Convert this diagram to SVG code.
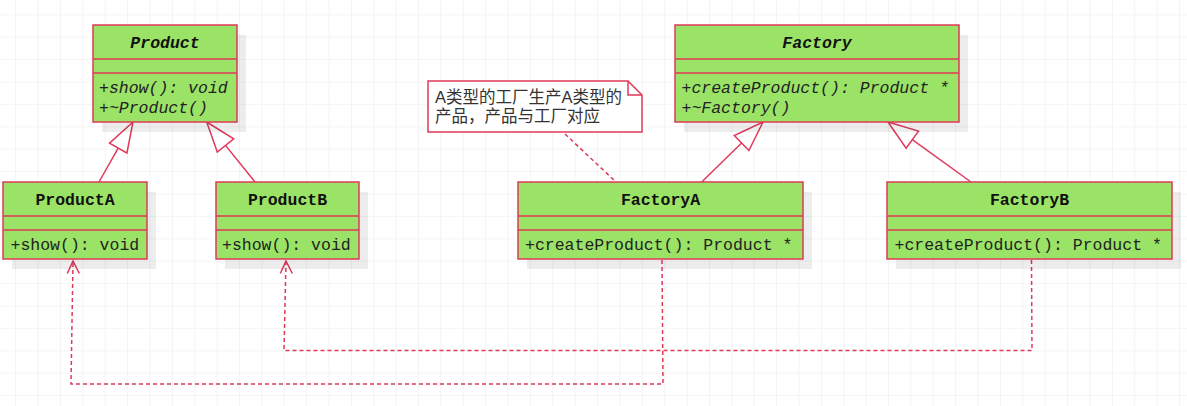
<svg xmlns="http://www.w3.org/2000/svg" width="1187" height="406" viewBox="0 0 1187 406">
<style>
.box{fill:#9be366;stroke:#e0395a;stroke-width:1.5}
.shadow{fill:#000;fill-opacity:0.07}
.sep{stroke:#e0395a;stroke-width:1.5}
.title{font-family:"Liberation Mono","Courier New",monospace;font-size:16.5px;font-weight:bold;fill:#111;text-anchor:middle}
.abs{font-style:italic}
.mem{font-family:"Liberation Mono","Courier New",monospace;font-size:16.5px;fill:#222}
.gen{stroke:#e0395a;stroke-width:1.5;fill:none}
.tri{stroke:#e0395a;stroke-width:1.5;fill:#fff}
.dep{stroke:#e0395a;stroke-width:1.5;fill:none;stroke-dasharray:4 3}
.note{fill:#fff;stroke:#e0395a;stroke-width:1.5}
.notetext{font-family:"Liberation Sans","Noto Sans CJK SC",sans-serif;font-size:16.5px;fill:#333}
</style>
<defs>
<pattern id="grid" patternUnits="userSpaceOnUse" x="15.2" y="14.3" width="22.38" height="22.4">
<path d="M0,0 H22.38 M0,0 V22.4" stroke="#ebebeb" stroke-width="1.2" fill="none"/>
</pattern>
</defs>
<rect width="1187" height="406" fill="#fff"/>
<rect width="1187" height="406" fill="url(#grid)"/>

<g id="connectors">
<line class="gen" x1="99" y1="182" x2="118.2" y2="148.1"/>
<polygon class="tri" points="133,122 126.9,153 109.5,143.2"/>
<line class="gen" x1="255" y1="182" x2="225.5" y2="145.4"/>
<polygon class="tri" points="206.7,122 233.7,138.8 217.3,152"/>
<line class="gen" x1="701.7" y1="182" x2="741.6" y2="143"/>
<polygon class="tri" points="763,122 748.9,150.5 734.3,135.5"/>
<line class="gen" x1="971" y1="182" x2="912.3" y2="139.6"/>
<polygon class="tri" points="888,122 918.5,131.1 906.1,148.1"/>
<path class="dep" d="M662,260 L663,384 L71,384 L73,262"/>
<path class="gen" d="M67.3,273.5 L73,261 L79.3,273.5"/>
<path class="dep" d="M1031.5,260 L1032,350.5 L284,350.5 L286,262"/>
<path class="gen" d="M280.3,273.5 L286,261 L292.3,273.5"/>
<line class="dep" x1="565" y1="134" x2="616" y2="182"/>
</g>

<g id="Product">
<rect class="shadow" x="102" y="35" width="144" height="97"/>
<rect class="box" x="93" y="25" width="144" height="97"/>
<line class="sep" x1="93" y1="59" x2="237" y2="59"/>
<line class="sep" x1="93" y1="73" x2="237" y2="73"/>
<text class="title abs" x="165" y="47.5">Product</text>
<text class="mem abs" x="99" y="93">+show(): void</text>
<text class="mem abs" x="99" y="112.5">+~Product()</text>
</g>

<g id="ProductA">
<rect class="shadow" x="12" y="192" width="144" height="77"/>
<rect class="box" x="3" y="182" width="144" height="77"/>
<line class="sep" x1="3" y1="216" x2="147" y2="216"/>
<line class="sep" x1="3" y1="230" x2="147" y2="230"/>
<text class="title" x="75" y="205">ProductA</text>
<text class="mem" x="10.5" y="249.5">+show(): void</text>
</g>

<g id="ProductB">
<rect class="shadow" x="225" y="192" width="143" height="77"/>
<rect class="box" x="216" y="182" width="143" height="77"/>
<line class="sep" x1="216" y1="216" x2="359" y2="216"/>
<line class="sep" x1="216" y1="230" x2="359" y2="230"/>
<text class="title" x="287.5" y="205">ProductB</text>
<text class="mem" x="222" y="249.5">+show(): void</text>
</g>

<g id="Factory">
<rect class="shadow" x="684" y="35" width="284" height="97"/>
<rect class="box" x="675" y="25" width="284" height="97"/>
<line class="sep" x1="675" y1="59" x2="959" y2="59"/>
<line class="sep" x1="675" y1="73" x2="959" y2="73"/>
<text class="title abs" x="817" y="47.5">Factory</text>
<text class="mem abs" x="681.5" y="93">+createProduct(): Product *</text>
<text class="mem abs" x="681.5" y="112.5">+~Factory()</text>
</g>

<g id="FactoryA">
<rect class="shadow" x="527" y="192" width="285" height="77"/>
<rect class="box" x="518" y="182" width="285" height="77"/>
<line class="sep" x1="518" y1="216" x2="803" y2="216"/>
<line class="sep" x1="518" y1="230" x2="803" y2="230"/>
<text class="title" x="660.5" y="205">FactoryA</text>
<text class="mem" x="525" y="249.5">+createProduct(): Product *</text>
</g>

<g id="FactoryB">
<rect class="shadow" x="896" y="192" width="285" height="77"/>
<rect class="box" x="887" y="182" width="285" height="77"/>
<line class="sep" x1="887" y1="216" x2="1172" y2="216"/>
<line class="sep" x1="887" y1="230" x2="1172" y2="230"/>
<text class="title" x="1029.5" y="205">FactoryB</text>
<text class="mem" x="894.5" y="249.5">+createProduct(): Product *</text>
</g>

<g id="Note">
<path class="note" d="M428,81 H628 L642,95 V132 H428 Z"/>
<path class="gen" d="M628,81 V95 H642"/>
<text class="notetext" x="435" y="103">A类型的工厂生产A类型的</text>
<text class="notetext" x="435" y="122">产品，产品与工厂对应</text>
</g>
</svg>
